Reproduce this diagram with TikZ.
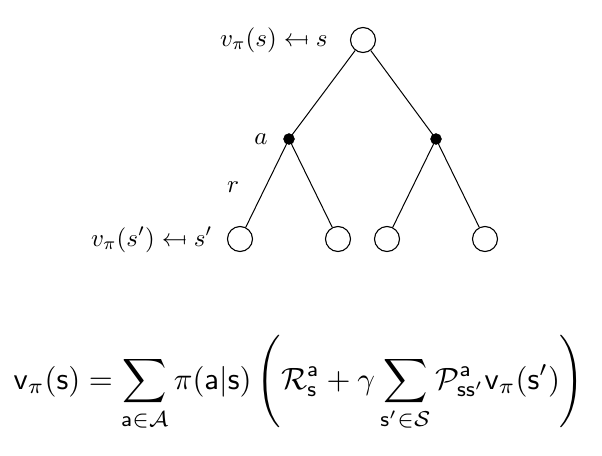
\documentclass[tikz,border=0pt]{standalone}
\usepackage{amsmath}
\newcommand{\mapsfromx}{\mathrel{\leftarrow\mkern-3mu\mapstochar\mkern3mu}}
\tikzset{
  statenode/.style={circle, draw, line width=1.1pt, minimum size=25pt, inner sep=0pt},
  actnode/.style={circle, fill, draw, minimum size=11pt, inner sep=0pt},
  lbl/.style={inner sep=0pt, scale=2.5},
  edge/.style={line width=1pt}
}
\begin{document}
\begin{tikzpicture}[x=1pt,y=-1pt]
\useasboundingbox (0,0) rectangle (602,455);
\node[statenode] (s) at (363,40) {};
\node[actnode] (a1) at (289,139) {};
\node[actnode] (a2) at (436,139) {};
\node[statenode] (l1) at (240,239) {};
\node[statenode] (l2) at (338,239) {};
\node[statenode] (l3) at (387,239) {};
\node[statenode] (l4) at (485,239) {};
\draw[edge] (s) -- (a1.center);
\draw[edge] (s) -- (a2.center);
\draw[edge] (a1.center) -- (l1);
\draw[edge] (a1.center) -- (l2);
\draw[edge] (a2.center) -- (l3);
\draw[edge] (a2.center) -- (l4);
\node[lbl, anchor=base east] (ls) at (328,46) {$v_\pi(s) \mapsfromx s$};
\node[lbl, anchor=base east] (ll) at (213,246) {$v_\pi(s') \mapsfromx s'$};
\node[lbl] (la) at (261,139) {$a$};
\node[lbl] (lr) at (233,187) {$r$};
\node[scale=3.08] (eq) at (299,383) {$\displaystyle \mathsf{v}_\pi(\mathsf{s}) = \sum_{\mathsf{a}\in\mathcal{A}} \pi(\mathsf{a}|\mathsf{s}) \left(\mathcal{R}^{\mathsf{a}}_{\mathsf{s}} + \gamma \sum_{\mathsf{s}'\in\mathcal{S}} \mathcal{P}^{\mathsf{a}}_{\mathsf{ss}'} \mathsf{v}_\pi(\mathsf{s}')\right)$};
\end{tikzpicture}
\end{document}
